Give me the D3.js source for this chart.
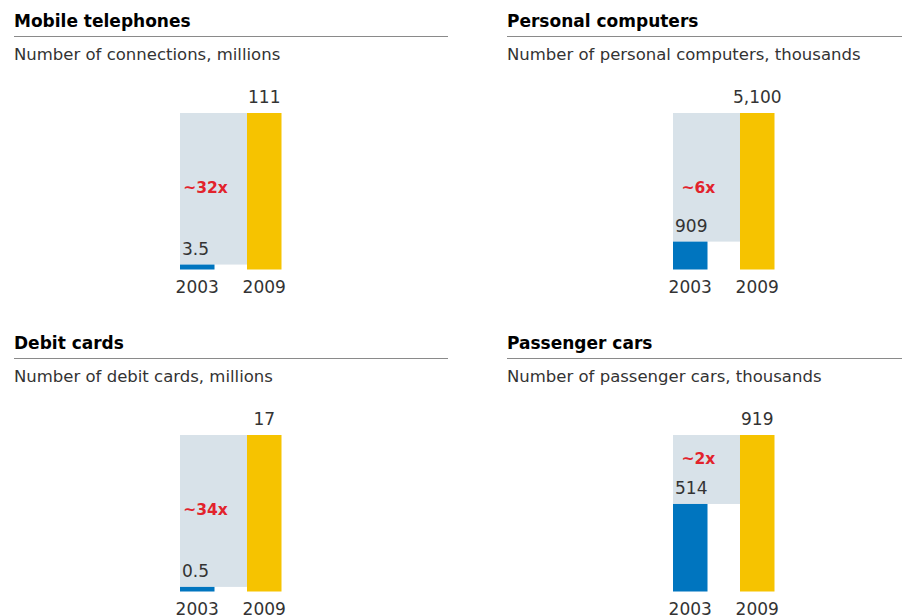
<!DOCTYPE html>
<html>
<head>
<meta charset="utf-8">
<script src="https://cdn.jsdelivr.net/npm/d3@7"></script>
<style>
  html, body { margin: 0; padding: 0; background: #fff; }
  svg { display: block; font-family: "DejaVu Sans", sans-serif; }
</style>
</head>
<body>
<svg id="chart" width="902" height="616"></svg>
<script>
// Small-multiple growth charts: 2003 vs 2009
const titles = ["Mobile telephones", "Personal computers", "Debit cards", "Passenger cars"];
const subtitles = [
  "Number of connections, millions",
  "Number of personal computers, thousands",
  "Number of debit cards, millions",
  "Number of passenger cars, thousands"
];
const years = ["2003", "2009"];
const values2003 = [3.5, 909, 0.5, 514];
const values2009 = [111, 5100, 17, 919];
const growthLabels = ["~32x", "~6x", "~34x", "~2x"];

const colors = { early: "#0075bf", late: "#f6c300", gap: "#d8e2e9", growth: "#e2232c" };
const fmt = d3.format(",");

const svg = d3.select("#chart");

// panel geometry (relative to each panel's origin)
const panelW = 434, colStep = 493, rowStep = 322, left0 = 14;
const barTop = 113, barBottom = 269.5;

const x = d3.scaleBand().domain(years).range([166, 267.5]).paddingInner(0.485).paddingOuter(0);

titles.forEach((title, i) => {
  const col = i % 2, row = Math.floor(i / 2);
  const g = svg.append("g").attr("transform", `translate(${left0 + col * colStep},${row * rowStep})`);

  const v0 = values2003[i], v1 = values2009[i];
  const y = d3.scaleLinear().domain([0, v1]).range([barBottom, barTop]);

  // header
  g.append("text").attr("x", 0).attr("y", 27)
    .attr("font-size", 17).attr("font-weight", "bold").attr("fill", "#000")
    .text(title);
  g.append("line").attr("x1", 0).attr("x2", panelW).attr("y1", 36.5).attr("y2", 36.5)
    .attr("stroke", "#8a8a8a").attr("stroke-width", 1.2);
  g.append("text").attr("x", 0).attr("y", 60)
    .attr("font-size", 16.5).attr("fill", "#333")
    .text(subtitles[i]);

  const x0 = x("2003"), x1 = x("2009"), bw = x.bandwidth();

  // shaded gap between the two values
  g.append("rect")
    .attr("x", x0).attr("width", x1 - x0)
    .attr("y", y(v1)).attr("height", y(v0) - y(v1))
    .attr("fill", colors.gap);

  // bars
  const vals = [v0, v1];
  g.selectAll("rect.bar").data(years).join("rect")
    .attr("class", "bar")
    .attr("x", d => x(d)).attr("width", bw)
    .attr("y", (d, k) => y(vals[k]))
    .attr("height", (d, k) => barBottom - y(vals[k]))
    .attr("fill", (d, k) => k === 0 ? colors.early : colors.late);

  // value labels
  const lbl0Y = y(v0) - 10;
  g.append("text").attr("x", x0 + 2).attr("y", lbl0Y)
    .attr("font-size", 17).attr("fill", "#333")
    .text(fmt(v0));
  g.append("text").attr("x", x1 + bw / 2).attr("y", y(v1) - 10)
    .attr("text-anchor", "middle").attr("font-size", 17).attr("fill", "#333")
    .text(fmt(v1));

  // year labels
  g.selectAll("text.year").data(years).join("text")
    .attr("class", "year")
    .attr("x", d => x(d) + bw / 2).attr("y", 293)
    .attr("text-anchor", "middle").attr("font-size", 17).attr("fill", "#333")
    .text(d => d);

  // growth multiple
  const gy = Math.min((barTop + barBottom) / 2 + 2, lbl0Y - 30);
  g.append("text").attr("x", (x0 + x1) / 2 - 8).attr("y", gy)
    .attr("text-anchor", "middle").attr("font-size", 15.5).attr("font-weight", "bold")
    .attr("fill", colors.growth)
    .text(growthLabels[i]);
});
</script>
</body>
</html>
